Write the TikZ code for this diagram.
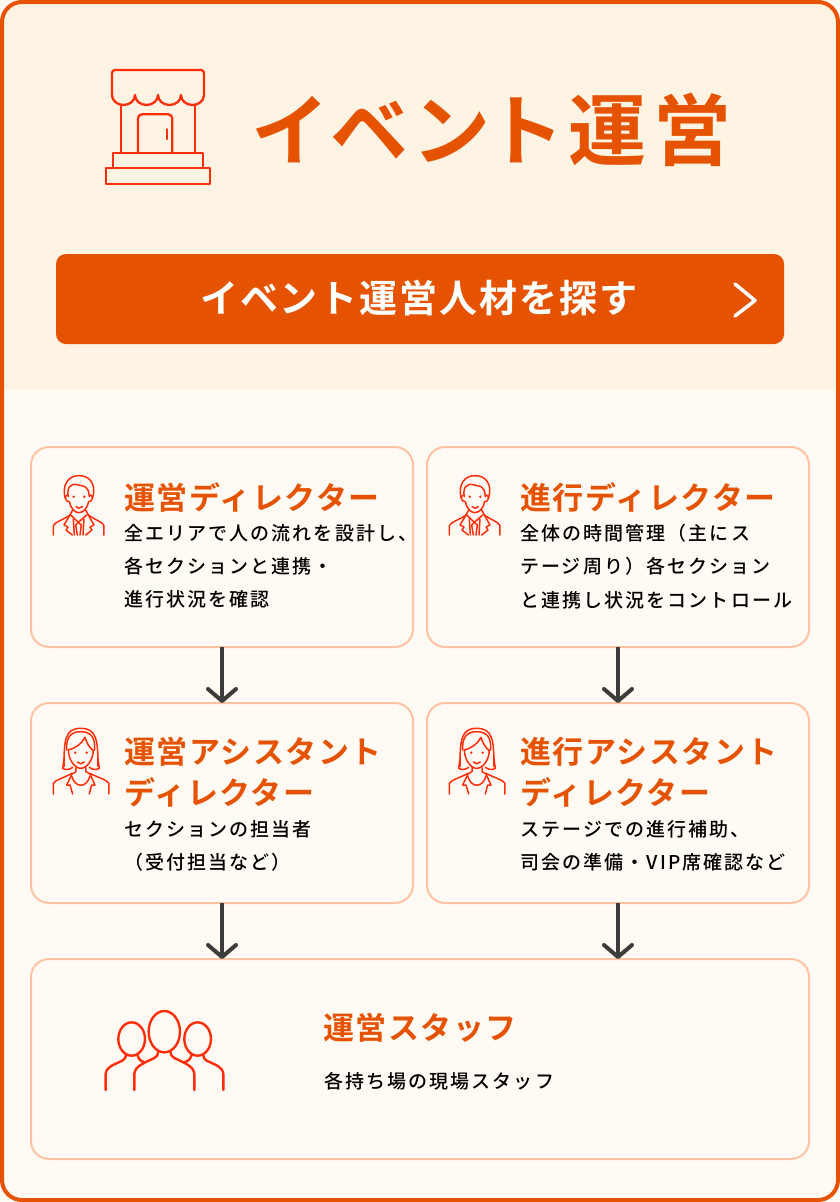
\documentclass[tikz,border=0pt]{standalone}
\usepackage{fontspec}
\setmainfont{Noto Sans CJK JP}
\newfontfamily\titlefont[LetterSpace=9.8,RawFeature=+palt]{Noto Sans CJK JP Bold}
\newfontfamily\headfont[LetterSpace=5]{Noto Sans CJK JP Bold}
\newfontfamily\bodyfont[LetterSpace=11]{Noto Sans CJK JP Medium}
\usetikzlibrary{arrows.meta}
\definecolor{mainorange}{HTML}{E65300}
\definecolor{iconred}{HTML}{FF2E0A}
\definecolor{topcream}{HTML}{FFF3E3}
\definecolor{lowcream}{HTML}{FFFAF4}
\definecolor{boxline}{HTML}{FFC3A3}
\definecolor{arrowgray}{HTML}{3C3C3C}
\tikzset{
  frame/.style={draw=mainorange,line width=4pt,rounded corners=20pt,minimum width=836pt,minimum height=1198pt,inner sep=0pt},
  button/.style={fill=mainorange,rounded corners=10pt,minimum width=728pt,minimum height=90pt,inner sep=0pt},
  card/.style={draw=boxline,fill=lowcream,line width=2pt,rounded corners=18pt,minimum width=382pt,minimum height=200pt,inner sep=0pt,outer sep=0pt,anchor=north west},
  head/.style={anchor=west,inner sep=0pt,align=left,text=mainorange,font=\headfont\fontsize{31}{41}\selectfont},
  body/.style={anchor=north west,inner sep=0pt,align=left,text=black,font=\bodyfont\fontsize{19}{33.3}\selectfont},
  flow/.style={draw=arrowgray,line width=4pt,-{Straight Barb[length=12pt,width=28pt,round]}},
  icon/.style={draw=iconred,line width=1.5pt,line cap=round,line join=round},
  man/.pic={
    \begin{scope}[x=0.3333pt,y=-0.3333pt,icon]
    \draw (75,98) .. controls (66,60) and (85,32) .. (115,32) .. controls (150,30) and (170,60) .. (158,98);
    \draw (85,95) .. controls (80,70) and (90,52) .. (115,60) .. controls (130,65) and (145,58) .. (148,95);
    \draw (84,90) .. controls (70,90) and (76,112) .. (88,110) .. controls (92,130) and (105,143) .. (116,143) .. controls (130,143) and (142,130) .. (146,110) .. controls (158,112) and (162,90) .. (150,90);
    \fill[iconred,draw=none] (101,95) circle (4) (133,95) circle (4);
    \draw (108,125) .. controls (113,131) and (122,131) .. (127,125);
    \draw (40,210) -- (40,182) .. controls (45,170) and (70,165) .. (90,150) -- (98,135);
    \draw (192,210) -- (192,182) .. controls (187,170) and (165,165) .. (145,150) -- (137,135);
    \draw (90,150) -- (72,180) -- (84,186) -- (78,195) -- (97,210);
    \draw (145,150) -- (162,180) -- (150,186) -- (156,195) -- (137,210);
    \draw (92,150) -- (115,172) -- (140,150);
    \draw (100,162) -- (103,210);
    \draw (132,162) -- (129,210);
    \draw (115,172) -- (107,180) -- (112,210);
    \draw (115,172) -- (124,180) -- (120,210);
    \end{scope}
  },
  woman/.pic={
    \begin{scope}[x=0.3333pt,y=-0.3333pt,icon]
    \draw (72,140) .. controls (72,60) and (75,25) .. (122,25) .. controls (170,25) and (174,60) .. (174,140);
    \draw (80,90) .. controls (78,55) and (90,35) .. (122,35) .. controls (155,35) and (166,55) .. (164,90);
    \draw (85,90) .. controls (105,85) and (125,72) .. (135,52) .. controls (140,70) and (150,85) .. (160,92);
    \draw (85,88) .. controls (85,120) and (105,145) .. (122,145) .. controls (140,145) and (160,120) .. (160,90);
    \draw (72,115) .. controls (70,135) and (68,142) .. (68,145) .. controls (75,150) and (88,150) .. (98,142);
    \draw (174,115) .. controls (176,135) and (178,142) .. (178,145) .. controls (170,150) and (158,150) .. (148,142);
    \fill[iconred,draw=none] (106,98) circle (4) (140,98) circle (4);
    \draw (112,126) .. controls (117,133) and (128,133) .. (133,126);
    \draw (108,143) -- (108,155) -- (96,162);
    \draw (138,143) -- (138,155) -- (150,162);
    \draw (40,222) -- (40,190) .. controls (45,180) and (75,172) .. (96,160);
    \draw (207,222) -- (207,190) .. controls (202,180) and (172,172) .. (150,160);
    \draw (96,162) -- (80,195) -- (90,195) -- (98,222);
    \draw (150,162) -- (165,195) -- (155,195) -- (148,222);
    \draw (95,168) .. controls (105,205) and (140,205) .. (150,168);
    \end{scope}
  },
  crowd/.pic={
    \begin{scope}[x=0.3333pt,y=-0.3333pt,icon,line width=2.4pt]
    \draw (208,95) ellipse[x radius=47,y radius=62];
    \draw (110,117) ellipse[x radius=40,y radius=50];
    \draw (308,117) ellipse[x radius=40,y radius=50];
    \draw (118,270) -- (118,222) .. controls (120,200) and (140,192) .. (178,174) .. controls (188,168) and (190,160) .. (190,153);
    \draw (298,270) -- (298,222) .. controls (296,200) and (276,192) .. (238,174) .. controls (228,168) and (226,160) .. (226,153);
    \draw (32,270) -- (32,222) .. controls (34,200) and (55,195) .. (82,182) .. controls (90,177) and (93,172) .. (93,165);
    \draw (385,270) -- (385,222) .. controls (383,200) and (362,195) .. (335,182) .. controls (327,177) and (325,172) .. (325,165);
    \draw (127,165) .. controls (128,175) and (135,182) .. (148,187);
    \draw (290,165) .. controls (289,175) and (282,182) .. (268,187);
    \end{scope}
  }
}
\begin{document}
\begin{tikzpicture}[x=1pt,y=-1pt]
\useasboundingbox (0,0) rectangle (840,1202);
% background
\fill[lowcream] (0,0) rectangle (840,1202);
\begin{scope}
\clip[rounded corners=20pt] (2,2) rectangle (838,1200);
\fill[topcream] (0,0) rectangle (840,390);
\end{scope}
\node[frame] (outer) at (420,601) {};
% shop
\begin{scope}[icon,line width=2.3pt]
\draw (120.7,105) -- (120.7,152.7) (195.3,105) -- (195.3,152.7);
\draw[rounded corners=3pt] (112,95) -- (112,70) -- (204,70) -- (204,95);
\draw (112,95) arc[start angle=180,end angle=0,x radius=11.5,y radius=10] arc[start angle=180,end angle=0,x radius=11.5,y radius=10] arc[start angle=180,end angle=0,x radius=11.5,y radius=10] arc[start angle=180,end angle=0,x radius=11.5,y radius=10];
\draw[rounded corners=4pt] (138,152.7) -- (138,114.3) -- (172.3,114.3) -- (172.3,152.7);
\draw (166.7,129.3) -- (166.7,139);
\draw (113.3,168.3) -- (113.3,152.7) -- (202.7,152.7) -- (202.7,168.3);
\draw (105.7,168.3) rectangle (210,184);
\end{scope}
\node[anchor=west,inner sep=0pt,text=mainorange,font=\titlefont\fontsize{78}{78}\selectfont] (title) at (254,130) {イベント運営};
% button
\node[button] (search) at (420,299) {};
\node[anchor=west,inner sep=0pt,text=white,font=\headfont\fontsize{38}{38}\selectfont] (searchtext) at (200,298) {イベント運営人材を探す};
\draw[white,line width=3.5pt,line cap=round,line join=round] (735,284) -- (755,300.5) -- (735,316);
% cards
\node[card] (dirA) at (31,447) {};
\node[card] (dirB) at (427,447) {};
\node[card] (astA) at (31,703) {};
\node[card] (astB) at (427,703) {};
\node[card,minimum width=778pt] (staff) at (31,959) {};
% arrows
\draw[flow] (dirA.south) -- (astA.north);
\draw[flow] (dirB.south) -- (astB.north);
\draw[flow] (astA.south) -- (astA.south |- staff.north);
\draw[flow] (astB.south) -- (astB.south |- staff.north);
% people
\pic at (40,465) {man};
\pic at (436,465) {man};
\pic at (40,720) {woman};
\pic at (436,720) {woman};
\pic at (95,1000) {crowd};
% texts
\node[head] (headA) at (124,497) {運営ディレクター};
\node[body] (bodyA) at (124,524) {全エリアで人の流れを設計し、\\各セクションと連携・\\進行状況を確認};
\node[head] (headB) at (520,497) {進行ディレクター};
\node[body] (bodyB) at (520,524) {全体の時間管理（主にス\\テージ周り）各セクション\\と連携し状況をコントロール};
\node[head] (headC) at (124,772) {運営アシスタント\\ディレクター};
\node[body] (bodyC) at (124,820) {セクションの担当者\\（受付担当など）};
\node[head] (headD) at (520,772) {進行アシスタント\\ディレクター};
\node[body] (bodyD) at (520,820) {ステージでの進行補助、\\司会の準備・VIP席確認など};
\node[head] (headE) at (323,1028) {運営スタッフ};
\node[body] (bodyE) at (324,1072) {各持ち場の現場スタッフ};
\end{tikzpicture}
\end{document}
